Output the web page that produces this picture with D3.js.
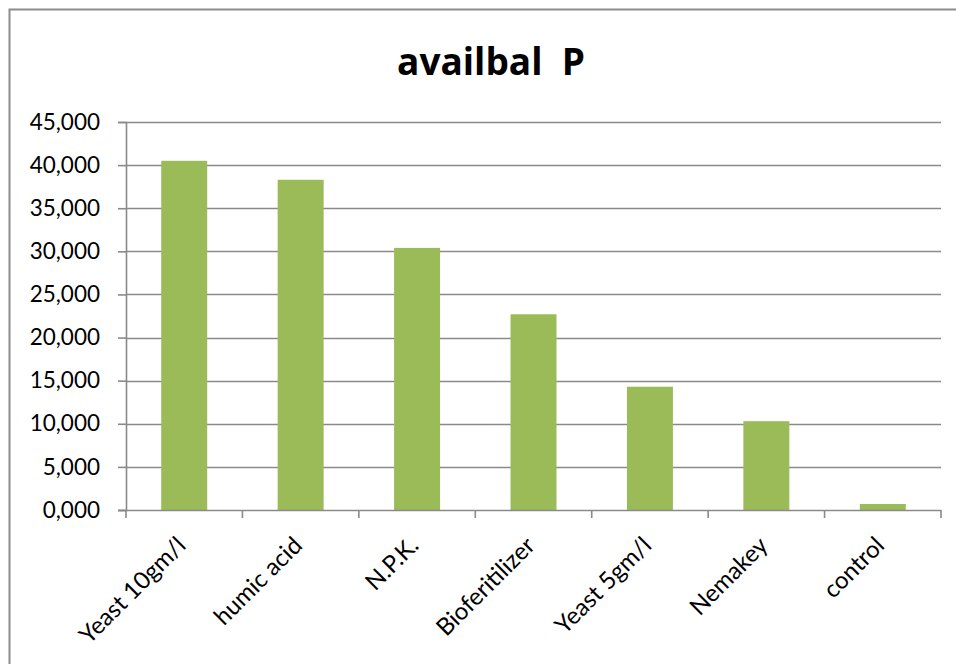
<!DOCTYPE html>
<html>
<head>
<meta charset="utf-8">
<script src="https://cdn.jsdelivr.net/npm/d3@7"></script>
<style>
  html, body { margin: 0; padding: 0; background: #fff; }
  svg { display: block; }
</style>
</head>
<body>
<script>
// Available phosphorus by treatment
const categories = ["Yeast 10gm/l", "humic acid", "N.P.K.", "Bioferitilizer", "Yeast 5gm/l", "Nemakey", "control"];
const values = [40.5, 38.3, 30.4, 22.7, 14.3, 10.3, 0.7];
const yTicks = [0, 5, 10, 15, 20, 25, 30, 35, 40, 45];
const title = "availbal  P";

const W = 956, H = 664;
const font = "Lato, 'Open Sans', sans-serif";

const svg = d3.select("body").append("svg").attr("width", W).attr("height", H);

// chart frame
svg.append("rect")
  .attr("x", 9.5).attr("y", 9.5)
  .attr("width", W + 20).attr("height", H + 20)
  .attr("fill", "#fff").attr("stroke", "#8c8c8c").attr("stroke-width", 2);

const plot = { left: 126, right: 941, top: 122, bottom: 510 };

const x = d3.scaleBand().domain(categories)
  .range([plot.left, plot.right]).paddingInner(0.605).paddingOuter(0.3025);
const y = d3.scaleLinear().domain([0, 45]).range([plot.bottom, plot.top]);

// horizontal gridlines
svg.append("g").selectAll("line").data(yTicks.filter(d => d > 0)).join("line")
  .attr("x1", plot.left).attr("x2", plot.right)
  .attr("y1", d => Math.round(y(d)) + 0.5).attr("y2", d => Math.round(y(d)) + 0.5)
  .attr("stroke", "#8a8a8a").attr("stroke-width", 1.6);

// bars
svg.append("g").selectAll("rect").data(categories).join("rect")
  .attr("x", d => x(d))
  .attr("width", x.bandwidth())
  .attr("y", (d, i) => y(values[i]))
  .attr("height", (d, i) => y(0) - y(values[i]))
  .attr("fill", "#9BBB59");

// y axis
const yAxis = d3.axisLeft(y).tickValues(yTicks).tickSize(8).tickPadding(18)
  .tickFormat(d => d.toFixed(3).replace(".", ","));
const gy = svg.append("g").attr("transform", `translate(${plot.left},0)`).call(yAxis);
gy.select(".domain").attr("stroke", "#8a8a8a").attr("stroke-width", 1.6);
gy.selectAll(".tick line").attr("stroke", "#8a8a8a").attr("stroke-width", 1.6);
gy.selectAll(".tick text").attr("font-family", font).attr("font-size", 22.5).attr("fill", "#000");

// x axis with ticks between categories
const boundaries = d3.range(categories.length + 1).map(i => plot.left + i * (plot.right - plot.left) / categories.length);
svg.append("line")
  .attr("x1", plot.left - 8).attr("x2", plot.right)
  .attr("y1", plot.bottom + 0.5).attr("y2", plot.bottom + 0.5)
  .attr("stroke", "#8a8a8a").attr("stroke-width", 1.6);
svg.append("g").selectAll("line").data(boundaries).join("line")
  .attr("x1", d => d).attr("x2", d => d)
  .attr("y1", plot.bottom).attr("y2", plot.bottom + 8)
  .attr("stroke", "#8a8a8a").attr("stroke-width", 1.6);

// rotated category labels
svg.append("g").selectAll("text").data(categories).join("text")
  .attr("transform", d => `translate(${x(d) + x.bandwidth() / 2 + 3},${plot.bottom + 37}) rotate(-45)`)
  .attr("text-anchor", "end")
  .attr("font-family", font).attr("font-size", 24).attr("fill", "#000")
  .text(d => d);

// title
svg.append("text")
  .attr("x", 491).attr("y", 75)
  .attr("text-anchor", "middle")
  .attr("font-family", "'Open Sans', Lato, sans-serif").attr("font-weight", "bold").attr("font-size", 37)
  .attr("fill", "#000")
  .style("white-space", "pre")
  .text(title);
</script>
</body>
</html>
